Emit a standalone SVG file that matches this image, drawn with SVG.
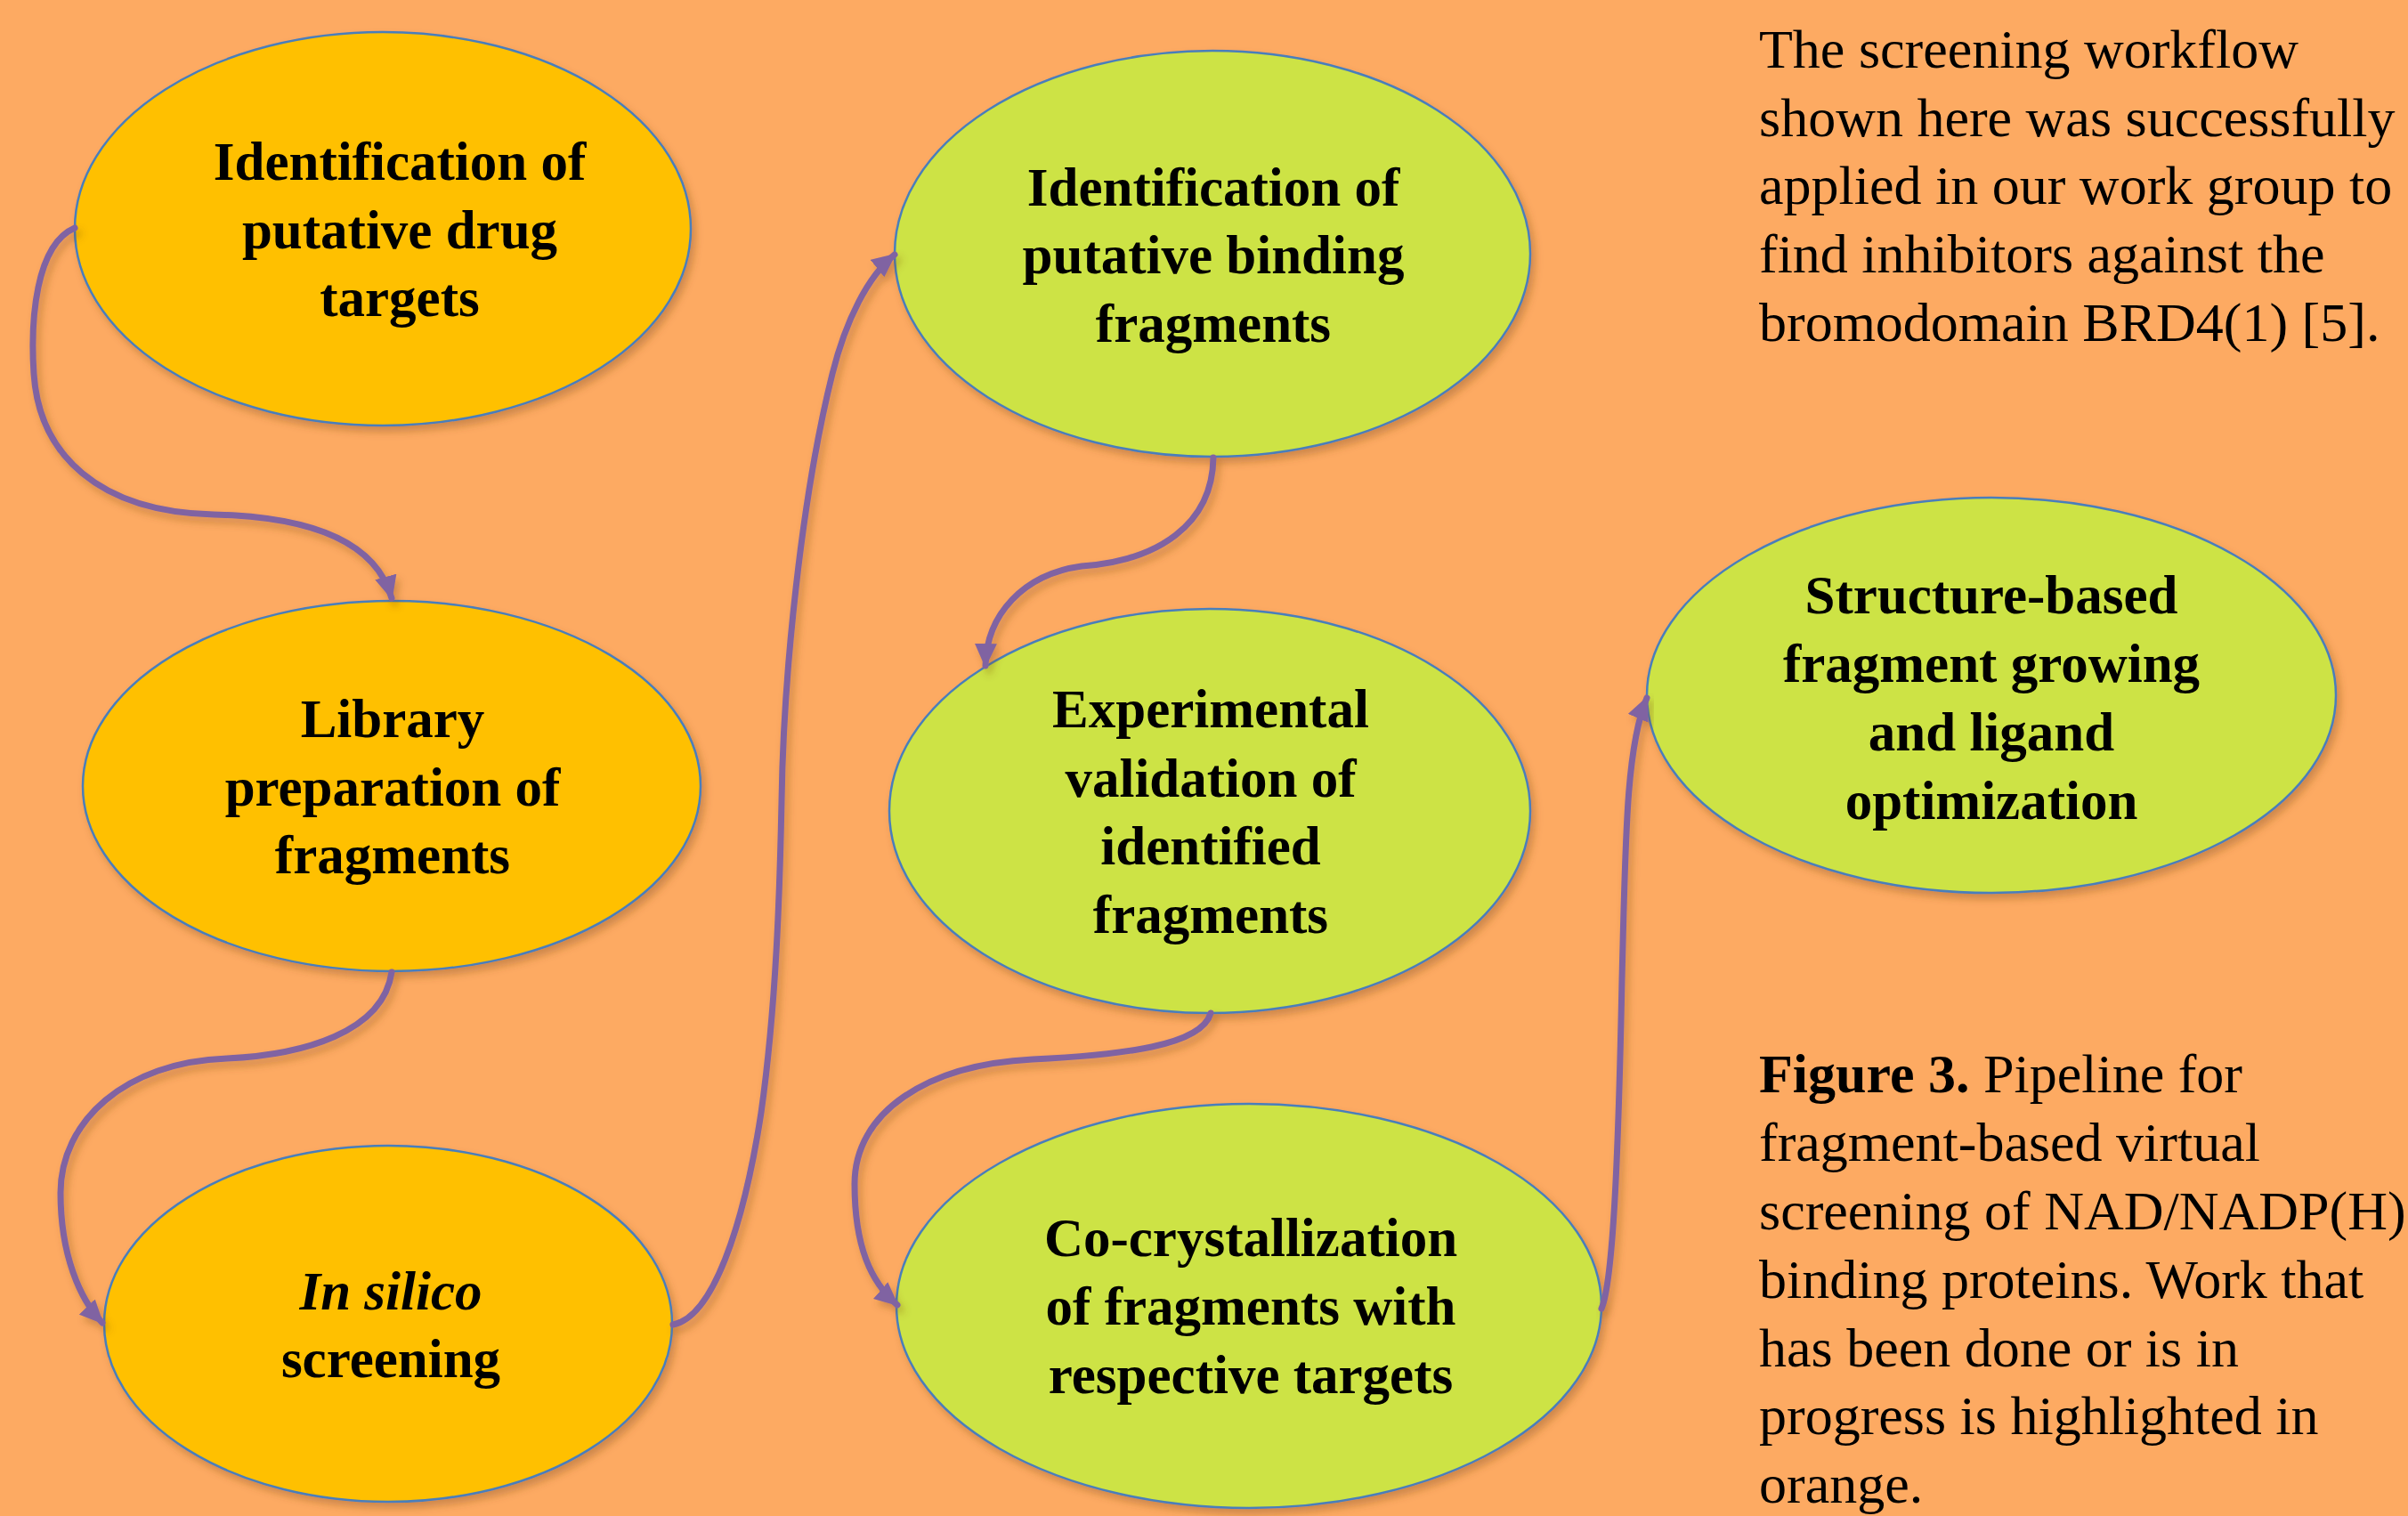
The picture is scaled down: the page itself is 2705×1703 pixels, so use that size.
<svg xmlns="http://www.w3.org/2000/svg" width="2705" height="1703" viewBox="0 0 2705 1703">
  <defs>
    <filter id="shadow" x="-10%" y="-10%" width="125%" height="130%">
      <feDropShadow dx="4" dy="6" stdDeviation="4" flood-color="#7a4a14" flood-opacity="0.35"/>
    </filter>
    <marker id="arrow" viewBox="0 0 26 24" refX="24" refY="12" markerWidth="27" markerHeight="25" markerUnits="userSpaceOnUse" orient="auto">
      <path d="M0,0 L26,12 L0,24 z" fill="#8064A2"/>
    </marker>
    <style>
      .done { fill: #FFC000; stroke: #4A7EBB; stroke-width: 2.5; filter: url(#shadow); }
      .todo { fill: #CDE344; stroke: #4A7EBB; stroke-width: 2.5; filter: url(#shadow); }
      .label { font-family: "Liberation Serif", "DejaVu Serif", serif; font-weight: bold; font-size: 61px; text-anchor: middle; fill: #000; }
      .note { font-family: "Liberation Serif", "DejaVu Serif", serif; font-size: 62px; fill: #000; }
      .link { fill: none; stroke: #8064A2; stroke-width: 7; stroke-linecap: round; marker-end: url(#arrow); filter: url(#shadow); }
    </style>
  </defs>

  <rect width="2705" height="1703" fill="#FDAA62"/>

  <!-- pipeline steps -->
  <g id="node-drug-targets">
    <ellipse class="done" cx="430" cy="257" rx="346" ry="221"/>
    <text class="label" x="449" y="202">Identification of</text>
    <text class="label" x="449" y="279">putative drug</text>
    <text class="label" x="449" y="355">targets</text>
  </g>

  <g id="node-library">
    <ellipse class="done" cx="440" cy="883" rx="347" ry="208"/>
    <text class="label" x="441" y="828">Library</text>
    <text class="label" x="441" y="905">preparation of</text>
    <text class="label" x="441" y="981">fragments</text>
  </g>

  <g id="node-in-silico">
    <ellipse class="done" cx="436" cy="1487" rx="319" ry="200"/>
    <text class="label" x="439" y="1471" font-style="italic">In silico</text>
    <text class="label" x="439" y="1547">screening</text>
  </g>

  <g id="node-binding-fragments">
    <ellipse class="todo" cx="1362" cy="285" rx="357" ry="228"/>
    <text class="label" x="1363" y="231">Identification of</text>
    <text class="label" x="1363" y="307">putative binding</text>
    <text class="label" x="1363" y="384">fragments</text>
  </g>

  <g id="node-validation">
    <ellipse class="todo" cx="1359" cy="911" rx="360" ry="227"/>
    <text class="label" x="1360" y="817">Experimental</text>
    <text class="label" x="1360" y="895">validation of</text>
    <text class="label" x="1360" y="971">identified</text>
    <text class="label" x="1360" y="1048">fragments</text>
  </g>

  <g id="node-cocrystallization">
    <ellipse class="todo" cx="1403" cy="1467" rx="396" ry="227"/>
    <text class="label" x="1405" y="1411">Co-crystallization</text>
    <text class="label" x="1405" y="1488">of fragments with</text>
    <text class="label" x="1405" y="1565">respective targets</text>
  </g>

  <g id="node-optimization">
    <ellipse class="todo" cx="2237" cy="781" rx="387" ry="222"/>
    <text class="label" x="2237" y="689">Structure-based</text>
    <text class="label" x="2237" y="766">fragment growing</text>
    <text class="label" x="2237" y="843">and ligand</text>
    <text class="label" x="2237" y="920">optimization</text>
  </g>

  <!-- flow arrows -->
  <g id="connectors">
    <path class="link" d="M84,256 C40,275 34,360 38,420 C44,510 110,575 240,578 C330,580 420,600 440,672"/>
    <path class="link" d="M440,1092 C430,1160 340,1185 255,1189 C140,1193 68,1260 68,1340 C68,1410 90,1460 115,1486"/>
    <path class="link" d="M756,1488 C800,1480 835,1380 855,1250 C872,1130 876,1000 878,900 C880,760 900,560 935,420 C950,360 975,310 1005,286"/>
    <path class="link" d="M1363,514 C1362,590 1300,630 1215,636 C1150,645 1108,690 1107,748"/>
    <path class="link" d="M1360,1138 C1350,1175 1260,1185 1160,1190 C1040,1196 960,1250 960,1330 C960,1400 978,1440 1008,1466"/>
    <path class="link" d="M1799,1470 C1812,1440 1818,1300 1822,1100 C1826,950 1826,840 1850,784"/>
  </g>

  <!-- side notes -->
  <g id="note-workflow">
    <text class="note" x="1976" y="76">The screening workflow</text>
    <text class="note" x="1976" y="153">shown here was successfully</text>
    <text class="note" x="1976" y="229">applied in our work group to</text>
    <text class="note" x="1976" y="306">find inhibitors against the</text>
    <text class="note" x="1976" y="383">bromodomain BRD4(1) [5].</text>
  </g>

  <g id="note-caption">
    <text class="note" x="1976" y="1227"><tspan font-weight="bold">Figure 3.</tspan> Pipeline for</text>
    <text class="note" x="1976" y="1304">fragment-based virtual</text>
    <text class="note" x="1976" y="1381">screening of NAD/NADP(H)</text>
    <text class="note" x="1976" y="1458">binding proteins. Work that</text>
    <text class="note" x="1976" y="1535">has been done or is in</text>
    <text class="note" x="1976" y="1611">progress is highlighted in</text>
    <text class="note" x="1976" y="1688">orange.</text>
  </g>
</svg>
